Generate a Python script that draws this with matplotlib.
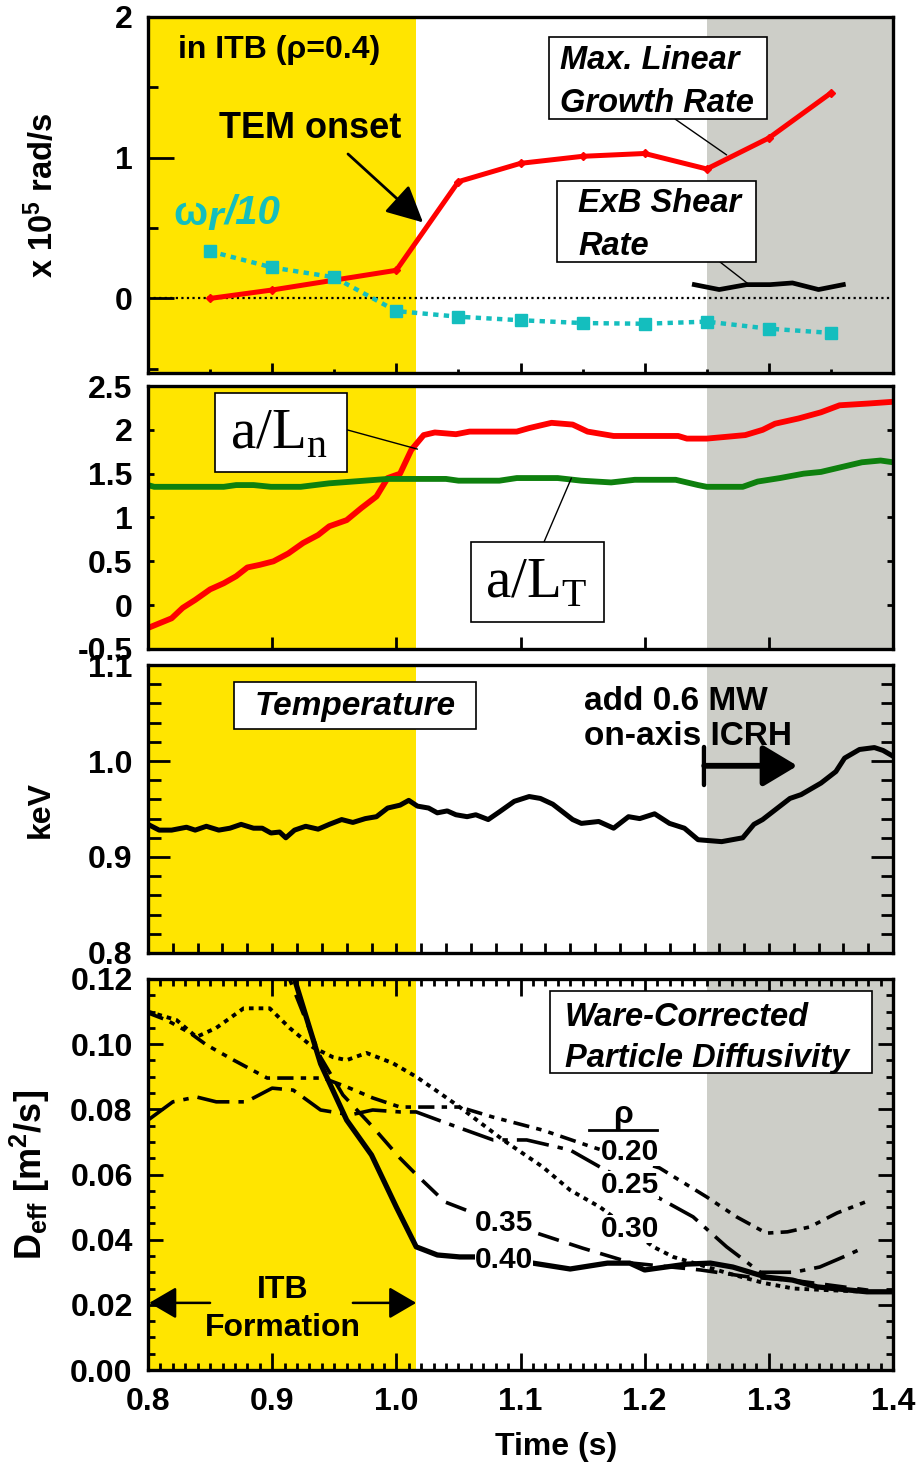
import matplotlib
matplotlib.use('Agg')
import matplotlib.pyplot as plt
from matplotlib.patches import Rectangle
from matplotlib.lines import Line2D
from matplotlib.ticker import MultipleLocator

# ---- panel 1: rates (x 10^5 rad/s) ----
growth_t = [0.85, 0.90, 1.00, 1.05, 1.10, 1.15, 1.20, 1.25, 1.30, 1.35]
growth_v = [0.00, 0.06, 0.20, 0.83, 0.96, 1.01, 1.03, 0.92, 1.14, 1.46]

omega_t = [0.85, 0.90, 0.95, 1.00, 1.05, 1.10, 1.15, 1.20, 1.25, 1.30, 1.35]
omega_v = [0.335, 0.22, 0.15, -0.09, -0.13, -0.155, -0.175, -0.18, -0.165, -0.215, -0.245]

exb_t = [1.240, 1.260, 1.282, 1.301, 1.319, 1.340, 1.360]
exb_v = [0.098, 0.063, 0.098, 0.098, 0.11, 0.063, 0.098]

# ---- panel 2: normalized gradients ----
ln_t = [0.800, 0.819, 0.828, 0.838, 0.850, 0.861, 0.871, 0.880, 0.890, 0.901,
        0.913, 0.925, 0.937, 0.946, 0.960, 0.972, 0.984, 0.993, 1.003, 1.012,
        1.022, 1.031, 1.048, 1.059, 1.097, 1.107, 1.125, 1.142, 1.154, 1.175,
        1.227, 1.234, 1.250, 1.281, 1.295, 1.305, 1.324, 1.342, 1.357, 1.380, 1.400]
ln_v = [-0.26, -0.15, -0.03, 0.06, 0.18, 0.25, 0.33, 0.43, 0.46, 0.50,
        0.59, 0.71, 0.80, 0.90, 0.97, 1.11, 1.24, 1.45, 1.50, 1.77,
        1.94, 1.97, 1.95, 1.98, 1.98, 2.02, 2.08, 2.06, 1.98, 1.93,
        1.93, 1.90, 1.90, 1.94, 2.00, 2.07, 2.13, 2.20, 2.28, 2.30, 2.32]

lt_t = [0.800, 0.805, 0.861, 0.871, 0.885, 0.899, 0.923, 0.946, 0.965, 0.993,
        1.040, 1.050, 1.083, 1.097, 1.130, 1.149, 1.173, 1.192, 1.225, 1.243,
        1.250, 1.279, 1.291, 1.309, 1.328, 1.342, 1.357, 1.375, 1.390, 1.400]
lt_v = [1.37, 1.35, 1.35, 1.37, 1.37, 1.35, 1.35, 1.39, 1.41, 1.44,
        1.44, 1.42, 1.42, 1.45, 1.45, 1.42, 1.40, 1.43, 1.43, 1.37,
        1.35, 1.35, 1.41, 1.45, 1.50, 1.52, 1.57, 1.63, 1.65, 1.63]

# ---- panel 3: temperature (keV) ----
te_t = [0.800, 0.809, 0.819, 0.831, 0.838, 0.847, 0.857, 0.866, 0.875, 0.885,
        0.892, 0.899, 0.906, 0.911, 0.918, 0.927, 0.937, 0.946, 0.956, 0.965,
        0.975, 0.984, 0.993, 1.003, 1.010, 1.017, 1.026, 1.033, 1.041, 1.048,
        1.057, 1.064, 1.074, 1.083, 1.095, 1.107, 1.116, 1.126, 1.135, 1.142,
        1.149, 1.163, 1.175, 1.187, 1.196, 1.208, 1.220, 1.232, 1.243, 1.262,
        1.279, 1.288, 1.295, 1.305, 1.317, 1.326, 1.342, 1.354, 1.361, 1.373,
        1.385, 1.392, 1.400]
te_v = [0.934, 0.928, 0.928, 0.931, 0.928, 0.932, 0.928, 0.930, 0.934, 0.930,
        0.930, 0.925, 0.926, 0.920, 0.928, 0.932, 0.929, 0.934, 0.939, 0.936,
        0.940, 0.942, 0.951, 0.954, 0.959, 0.953, 0.951, 0.946, 0.948, 0.944,
        0.942, 0.944, 0.939, 0.947, 0.958, 0.963, 0.961, 0.955, 0.946, 0.939,
        0.935, 0.937, 0.930, 0.942, 0.940, 0.945, 0.935, 0.930, 0.918, 0.916,
        0.920, 0.934, 0.939, 0.949, 0.961, 0.965, 0.977, 0.989, 1.003, 1.012,
        1.014, 1.011, 1.005]

# ---- panel 4: D_eff (m^2/s) at several rho ----
d20_t = [0.800, 0.815, 0.834, 0.847, 0.869, 0.896, 0.914, 0.941, 0.960, 0.981,
         1.003, 1.030, 1.051, 1.078, 1.118, 1.158, 1.212, 1.250, 1.274, 1.298,
         1.315, 1.333, 1.355, 1.378]
d20_v = [0.1096, 0.1074, 0.1034, 0.0998, 0.0951, 0.0896, 0.0896, 0.0896, 0.0869, 0.0835,
         0.0807, 0.0807, 0.0807, 0.0776, 0.0736, 0.0684, 0.0620, 0.0531, 0.0470, 0.0420,
         0.0424, 0.0439, 0.0482, 0.0516]

d25_t = [0.800, 0.820, 0.839, 0.855, 0.879, 0.900, 0.917, 0.939, 0.963, 0.981,
         1.003, 1.016, 1.038, 1.051, 1.078, 1.105, 1.140, 1.164, 1.210, 1.239,
         1.266, 1.293, 1.320, 1.341, 1.360, 1.378]
d25_v = [0.0767, 0.0823, 0.0838, 0.0823, 0.0823, 0.0865, 0.0859, 0.0798, 0.0783, 0.0798,
         0.0792, 0.0792, 0.0761, 0.0743, 0.0706, 0.0706, 0.0675, 0.0623, 0.0531, 0.0470,
         0.0378, 0.0300, 0.0300, 0.0316, 0.0347, 0.0378]

d30_t = [0.800, 0.823, 0.839, 0.855, 0.877, 0.898, 0.914, 0.933, 0.949, 0.960,
         0.976, 0.997, 1.016, 1.035, 1.051, 1.086, 1.118, 1.140, 1.164, 1.207,
         1.223, 1.240, 1.266, 1.296, 1.320, 1.348, 1.380]
d30_v = [0.1100, 0.1074, 0.1022, 0.1050, 0.1110, 0.1110, 0.1050, 0.0990, 0.0960, 0.0951,
         0.0973, 0.0942, 0.0900, 0.0850, 0.0807, 0.0706, 0.0623, 0.0552, 0.0500, 0.0378,
         0.0347, 0.0328, 0.0298, 0.0267, 0.0250, 0.0245, 0.0240]

d35_t = [0.902, 0.914, 0.939, 0.957, 0.981, 1.003, 1.016, 1.039, 1.062, 1.110,
         1.150, 1.190, 1.245, 1.285, 1.320, 1.380]
d35_v = [0.1340, 0.1200, 0.0960, 0.0844, 0.0746, 0.0650, 0.0600, 0.0516, 0.0482, 0.0424,
         0.0374, 0.0328, 0.0307, 0.0285, 0.0275, 0.0245]

d40_t = [0.905, 0.918, 0.939, 0.960, 0.980, 1.000, 1.016, 1.033, 1.051, 1.080,
         1.110, 1.140, 1.170, 1.188, 1.200, 1.234, 1.253, 1.271, 1.285, 1.298,
         1.319, 1.339, 1.379, 1.400]
d40_v = [0.1360, 0.1200, 0.0940, 0.0767, 0.0660, 0.0500, 0.0378, 0.0353, 0.0347, 0.0347,
         0.0328, 0.0310, 0.0328, 0.0328, 0.0307, 0.0325, 0.0328, 0.0316, 0.0300, 0.0285,
         0.0276, 0.0255, 0.0240, 0.0240]

rho_labels = ['0.20', '0.25', '0.30', '0.35', '0.40']

ITB_START, ITB_END = 0.8, 1.016   # yellow: ITB formation
ICRH_START, ICRH_END = 1.25, 1.4  # gray: ICRH on

YELLOW = '#FFE500'
GRAY = '#CDCEC8'
CYAN = '#14BEBE'
RED = '#FF0000'
GREEN = '#0E800E'

plt.rcParams.update({
    'font.family': 'Liberation Sans',
    'font.weight': 'bold',
    'axes.labelweight': 'bold',
    'mathtext.fontset': 'custom',
    'mathtext.rm': 'Liberation Sans:bold',
    'mathtext.bf': 'Liberation Sans:bold',
    'mathtext.it': 'Liberation Sans:italic:bold',
    'mathtext.sf': 'Liberation Serif:weight=normal',
})

W, H = 921, 1463
TICK_FS = 23


def fx(x):
    return x / W


def fy(y):
    return 1 - y / H


def box(fig, x0, y0, x1, y1):
    fig.add_artist(Rectangle((fx(x0), fy(y1)), fx(x1) - fx(x0), fy(y0) - fy(y1),
                             transform=fig.transFigure, facecolor='white',
                             edgecolor='black', lw=1.2, zorder=5))


def add_axes(fig, top, bottom):
    ax = fig.add_axes([fx(148), fy(bottom), fx(893) - fx(148), fy(top) - fy(bottom)])
    ax.set_xlim(0.8, 1.4)
    ax.axvspan(ITB_START, ITB_END, color=YELLOW, lw=0, zorder=0)
    ax.axvspan(ICRH_START, ICRH_END, color=GRAY, lw=0, zorder=0)
    for s in ax.spines.values():
        s.set_linewidth(2.4)
        s.set_zorder(4)
    return ax


fig = plt.figure(figsize=(W / 100, H / 100), dpi=100)

# ================= panel 1 =================
ax1 = add_axes(fig, 17, 373)
ax1.set_ylim(-0.53, 2.0)
ax1.axhline(0, color='black', ls=(0, (1, 1.5)), lw=1.6, zorder=1)
ax1.plot(growth_t, growth_v, color=RED, lw=3.6, marker='D', ms=4, zorder=3)
ax1.plot(omega_t, omega_v, color=CYAN, lw=3.2, ls=(0, (1.2, 1.2)), marker='s', ms=8.5, zorder=3)
ax1.plot(exb_t, exb_v, color='black', lw=3.4, zorder=3)

ax1.set_yticks([0, 1, 2], ['0', '1', '2'])
ax1.yaxis.set_minor_locator(MultipleLocator(0.5))
ax1.xaxis.set_major_locator(MultipleLocator(0.1))
ax1.xaxis.set_minor_locator(MultipleLocator(0.05))
ax1.tick_params(axis='y', which='major', direction='in', length=19, width=2, labelsize=TICK_FS, pad=11)
ax1.tick_params(axis='y', which='minor', direction='in', length=7, width=2)
ax1.tick_params(axis='x', which='major', direction='in', length=7, width=2, labelbottom=False)
ax1.tick_params(axis='x', which='minor', direction='in', length=3, width=2)
ax1.set_ylabel('x 10$^5$ rad/s', fontsize=23.5)
ax1.yaxis.set_label_coords(-0.118, 0.5)

fig.text(fx(178), fy(50), 'in ITB (ρ=0.4)', fontsize=23, ha='left', va='center', zorder=6)
fig.text(fx(310), fy(128), 'TEM onset', fontsize=26, ha='center', va='center', zorder=6)
ax1.annotate('', xy=(1.0215, 0.54), xytext=(fx(348), fy(154)), textcoords='figure fraction',
             arrowprops=dict(arrowstyle='-|>,head_length=0.7,head_width=0.35', color='black',
                             lw=2, mutation_scale=32, shrinkA=0, shrinkB=0), zorder=6)
fig.text(fx(173), fy(214), 'ω', fontsize=29, color=CYAN, ha='left', va='center', zorder=6)
fig.text(fx(207), fy(219), 'r', fontsize=29, color=CYAN, style='italic', ha='left', va='center', zorder=6)
fig.text(fx(224), fy(213), '/10', fontsize=29, color=CYAN, style='italic', ha='left', va='center', zorder=6)

box(fig, 549, 37, 767, 119)
fig.text(fx(560), fy(82), 'Max. Linear\nGrowth Rate', fontsize=23.5, style='italic',
         ha='left', va='center', linespacing=1.5, zorder=6)
ax1.annotate('', xy=(1.266, 1.02), xytext=(fx(675), fy(119)), textcoords='figure fraction',
             arrowprops=dict(arrowstyle='-', color='black', lw=1, shrinkA=0, shrinkB=0))

box(fig, 557, 181, 756, 262)
fig.text(fx(578), fy(225), 'ExB Shear\nRate', fontsize=23.5, style='italic',
         ha='left', va='center', linespacing=1.5, zorder=6)
ax1.annotate('', xy=(1.285, 0.092), xytext=(fx(720), fy(262)), textcoords='figure fraction',
             arrowprops=dict(arrowstyle='-', color='black', lw=1, shrinkA=0, shrinkB=0))

# ================= panel 2 =================
ax2 = add_axes(fig, 386, 649)
ax2.set_ylim(-0.5, 2.5)
ax2.plot(ln_t, ln_v, color=RED, lw=4.2, zorder=3)
ax2.plot(lt_t, lt_v, color=GREEN, lw=4.2, zorder=3)
ax2.set_yticks([-0.5, 0, 0.5, 1, 1.5, 2, 2.5], ['-0.5', '0', '0.5', '1', '1.5', '2', '2.5'])
ax2.xaxis.set_major_locator(MultipleLocator(0.1))
ax2.tick_params(axis='y', direction='in', length=4, width=2, labelsize=TICK_FS, pad=11, right=True)
ax2.tick_params(axis='x', direction='in', length=9, width=2, labelbottom=False)

box(fig, 215, 393, 347, 472)
fig.text(fx(279), fy(433), r'$\mathsf{a/L}_{\mathsf{n}}$', fontsize=41, ha='center', va='center', zorder=6)
ax2.annotate('', xy=(1.017, 1.78), xytext=(fx(344), fy(429)), textcoords='figure fraction',
             arrowprops=dict(arrowstyle='-', color='black', lw=1, shrinkA=0, shrinkB=0))
box(fig, 471, 542, 604, 622)
fig.text(fx(536), fy(582), r'$\mathsf{a/L}_{\mathsf{T}}$', fontsize=41, ha='center', va='center', zorder=6)
ax2.annotate('', xy=(1.141, 1.45), xytext=(fx(544), fy(542)), textcoords='figure fraction',
             arrowprops=dict(arrowstyle='-', color='black', lw=1, shrinkA=0, shrinkB=0))

# ================= panel 3 =================
ax3 = add_axes(fig, 665, 953)
ax3.set_ylim(0.8, 1.1)
ax3.plot(te_t, te_v, color='black', lw=3.6, zorder=3)
ax3.set_yticks([0.8, 0.9, 1.0, 1.1], ['0.8', '0.9', '1.0', '1.1'])
ax3.yaxis.set_minor_locator(MultipleLocator(0.02))
ax3.xaxis.set_major_locator(MultipleLocator(0.1))
ax3.xaxis.set_minor_locator(MultipleLocator(0.02))
ax3.tick_params(axis='y', which='major', direction='in', length=16, width=2, labelsize=TICK_FS, pad=11, right=True)
ax3.tick_params(axis='y', which='minor', direction='in', length=9, width=2, right=True)
ax3.tick_params(axis='x', which='both', direction='in', length=7, width=2, labelbottom=False)
ax3.set_ylabel('keV', fontsize=23)
ax3.yaxis.set_label_coords(-0.1235, 0.5)

box(fig, 234, 682, 476, 729)
fig.text(fx(355), fy(706), 'Temperature', fontsize=24, style='italic', ha='center', va='center', zorder=6)
fig.text(fx(584), fy(719), 'add 0.6 MW\non-axis ICRH', fontsize=24, ha='left', va='center',
         linespacing=1.2, zorder=6)
ax3.annotate('', xy=(1.323, 0.995), xytext=(1.248, 0.995),
             arrowprops=dict(arrowstyle='-|>,head_length=0.7,head_width=0.42', color='black', lw=4.2,
                             mutation_scale=30, shrinkA=0, shrinkB=0), zorder=6)
ax3.annotate('', xy=(1.28, 0.995), xytext=(1.248, 0.995),
             arrowprops=dict(arrowstyle='|-|,widthA=0.45,widthB=0', color='black', lw=3.2,
                             mutation_scale=30, shrinkA=0, shrinkB=0), zorder=6)

# ================= panel 4 =================
ax4 = add_axes(fig, 979, 1370)
ax4.set_ylim(0, 0.12)
ax4.plot(d20_t, d20_v, color='black', lw=2.6, ls=(0, (4.5, 2, 1.5, 2, 1.5, 2)), zorder=3)
ax4.plot(d25_t, d25_v, color='black', lw=2.6, ls=(0, (9, 2.5, 1.5, 2.5)), zorder=3)
ax4.plot(d30_t, d30_v, color='black', lw=2.8, ls=(0, (1.2, 1.3)), zorder=3)
ax4.plot(d35_t, d35_v, color='black', lw=2.6, ls=(0, (6, 3)), zorder=3)
ax4.plot(d40_t, d40_v, color='black', lw=3.8, zorder=3)

ax4.set_yticks([0, 0.02, 0.04, 0.06, 0.08, 0.10, 0.12],
               ['0.00', '0.02', '0.04', '0.06', '0.08', '0.10', '0.12'])
ax4.yaxis.set_minor_locator(MultipleLocator(0.005))
ax4.set_xticks([0.8, 0.9, 1.0, 1.1, 1.2, 1.3, 1.4], ['0.8', '0.9', '1.0', '1.1', '1.2', '1.3', '1.4'])
ax4.xaxis.set_minor_locator(MultipleLocator(0.01))
ax4.tick_params(axis='y', which='major', direction='in', length=11, width=2, labelsize=TICK_FS, pad=11, right=True)
ax4.tick_params(axis='y', which='minor', direction='in', length=5, width=2, right=True)
ax4.tick_params(axis='x', which='major', direction='in', length=12, width=2, labelsize=TICK_FS, pad=12, top=True)
ax4.tick_params(axis='x', which='minor', direction='in', length=5, width=2, top=True)
ax4.set_ylabel(r'D$_{\mathrm{eff}}$ [m$^2$/s]', fontsize=26)
ax4.yaxis.set_label_coords(-0.129, 0.5)
ax4.set_xlabel('Time (s)', fontsize=23)
ax4.xaxis.set_label_coords(0.548, -0.159)

box(fig, 550, 991, 872, 1073)
fig.text(fx(565), fy(1038), 'Ware-Corrected\nParticle Diffusivity', fontsize=23.5, style='italic',
         ha='left', va='center', linespacing=1.45, zorder=6)

fig.text(fx(623), fy(1115), 'ρ', fontsize=23, ha='center', va='center', zorder=6)
fig.add_artist(Line2D([fx(589), fx(657)], [fy(1130), fy(1130)], color='black', lw=2,
                      transform=fig.transFigure))
rho_pos = [(630, 1152), (630, 1185), (630, 1229), (504, 1223), (504, 1260)]
for lab, (px, py) in zip(rho_labels, rho_pos):
    fig.text(fx(px), fy(py), lab, fontsize=21.5, ha='center', va='center', zorder=6,
             bbox=dict(facecolor='white', edgecolor='none', pad=0.3))

fig.text(fx(283), fy(1290), 'ITB', fontsize=23, ha='center', va='center', zorder=6)
fig.text(fx(283), fy(1328), 'Formation', fontsize=23, ha='center', va='center', zorder=6)
ax4.annotate('', xy=(0.801, 0.0206), xytext=(0.85, 0.0206),
             arrowprops=dict(arrowstyle='-|>,head_length=0.6,head_width=0.35', color='black', lw=1.8,
                             mutation_scale=28, shrinkA=0, shrinkB=0))
ax4.annotate('', xy=(1.016, 0.0206), xytext=(0.965, 0.0206),
             arrowprops=dict(arrowstyle='-|>,head_length=0.6,head_width=0.35', color='black', lw=1.8,
                             mutation_scale=28, shrinkA=0, shrinkB=0))

fig.savefig('out.png', dpi=100)
